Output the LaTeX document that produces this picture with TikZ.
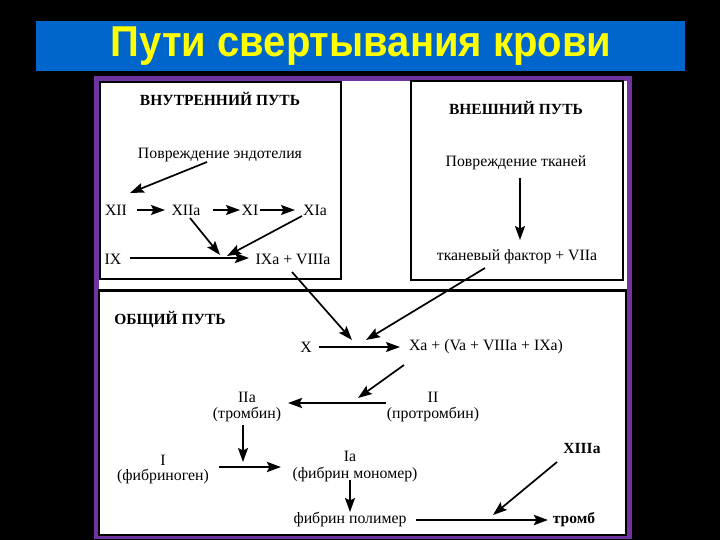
\documentclass[tikz,border=0pt]{standalone}
\usepackage{fontspec}
\setmainfont{Liberation Serif}
\newfontfamily\titlefont{Liberation Sans}
\usetikzlibrary{arrows.meta,calc}
\definecolor{barblue}{RGB}{0,102,204}
\definecolor{framepurple}{RGB}{112,52,160}
\definecolor{titleyellow}{RGB}{255,255,0}
\tikzset{
  txt/.style={inner sep=0pt, font=\fontsize{15.8}{18}\selectfont},
  hdr/.style={inner sep=0pt, font=\bfseries\fontsize{15.5}{18}\selectfont},
  arr/.style={-{Stealth[length=14pt,width=10pt,inset=2.5pt]}, line width=1.7pt},
  thickarr/.style={arr, line width=2.7pt},
  panel/.style={draw=black, line width=2pt}
}
\begin{document}
\begin{tikzpicture}[x=1pt,y=-1pt]
\useasboundingbox (0,0) rectangle (720,540);
\fill[black] (0,0) rectangle (720,540);
% title bar
\fill[barblue] (36,21) rectangle (685,71);
\node[inner sep=0pt, text=titleyellow, font=\titlefont\bfseries\fontsize{40}{44}\selectfont, yscale=1.08] (title) at (361,46) {Пути свертывания крови};
% purple frame
\fill[framepurple] (94,76) rectangle (632,539);
\fill[white] (99,81) rectangle (627,536);
% panels
\draw[panel] (100,82) rectangle (341,279);
\draw[panel] (411,81) rectangle (623,280);
\draw[panel] (99,290) rectangle (626,535);
\draw[line width=3pt] (99,290) -- (626,290);

% internal path
\node[hdr] (hin) at (220,99) {ВНУТРЕННИЙ ПУТЬ};
\node[txt] (pe) at (220,155) {Повреждение эндотелия};
\node[txt] (xii) at (116,210) {XII};
\node[txt] (xiia) at (186,210) {XIIa};
\node[txt] (xi) at (250,210) {XI};
\node[txt] (xia) at (315,210) {XIa};
\node[txt] (ix) at (113,259) {IX};
\node[txt] (ixa) at (293,259) {IXa + VIIIa};
\coordinate (m1) at (220,255);
\coordinate (m2) at (227,256);

% external path
\node[hdr] (hex) at (516,108) {ВНЕШНИЙ ПУТЬ};
\node[txt] (pt) at (516,163) {Повреждение тканей};
\node[txt] (tf) at (517,257) {тканевый фактор + VIIa};

% common path
\node[hdr] (hob) at (170,320) {ОБЩИЙ ПУТЬ};
\node[txt] (x) at (306,347) {X};
\node[txt] (xa) at (486,347) {Xa + (Va + VIIIa + IXa)};
\coordinate (j1) at (352,340);
\coordinate (j2) at (366,340);
\node[txt] (iia) at (247,397) {IIa};
\node[txt] (tromb) at (247,415) {(тромбин)};
\node[txt] (ii) at (433,397) {II};
\node[txt] (ptromb) at (433,415) {(протромбин)};
\coordinate (k1) at (358,398);
\node[txt] (i) at (163,460) {I};
\node[txt] (fg) at (163,477) {(фибриноген)};
\node[txt] (ia) at (350,456) {Ia};
\node[txt] (fm) at (355,475) {(фибрин мономер)};
\coordinate (l1) at (243,462);
\node[txt] (fp) at (350,520) {фибрин полимер};
\node[hdr] (thr) at (574,520) {тромб};
\node[hdr] (xiiia) at (582,448) {XIIIa};
\coordinate (n1) at (493,515);

% arrows internal
\draw[arr] ($(pe)+(-13,7)$) -- ($(xii)+(14,-17)$);
\draw[arr] ($(xii)+(21,0)$) -- ($(xiia)+(-21,0)$);
\draw[arr] ($(xiia)+(27,0)$) -- ($(xi)+(-10,0)$);
\draw[arr] ($(xi)+(10,0)$) -- ($(xia)+(-20,0)$);
\draw[thickarr] ($(ix)+(17,-1)$) -- ($(ixa)+(-44,-1)$);
\draw[arr] ($(xiia)+(4,8)$) -- (m1);
\draw[arr] ($(xia)+(-13,6)$) -- (m2);
% external
\draw[arr] ($(pt)+(4,15)$) -- ($(tf)+(3,-17)$);
% common
\draw[arr] ($(ixa)+(-1,13)$) -- (j1);
\draw[arr] ($(tf)+(-32,11)$) -- (j2);
\draw[arr] ($(x)+(13,0)$) -- ($(xa)+(-86,0)$);
\draw[arr] ($(xa)+(-82,18)$) -- (k1);
\draw[thickarr] ($(ii)+(-47,6)$) -- ($(iia)+(41,6)$);
\draw[arr] ($(tromb)+(-4,10)$) -- (l1);
\draw[thickarr] ($(i)+(56,7)$) -- ($(ia)+(-69,11)$);
\draw[arr] ($(fm)+(-5,5)$) -- ($(fp)+(0,-8)$);
\draw[thickarr] ($(fp)+(66,0)$) -- ($(thr)+(-26,0)$);
\draw[arr] ($(xiiia)+(-25,14)$) -- (n1);
\end{tikzpicture}
\end{document}
